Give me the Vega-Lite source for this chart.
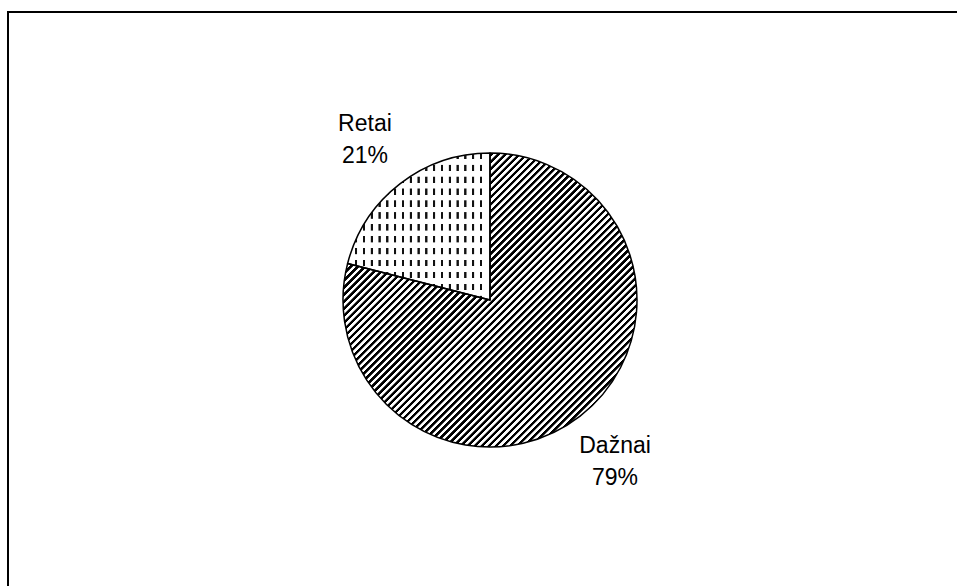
{
  "$schema": "https://vega.github.io/schema/vega-lite/v6.json",
  "width": 934,
  "height": 572,
  "autosize": {"type": "none"},
  "padding": {"left": 23, "top": 14, "right": 0, "bottom": 0},
  "background": "white",
  "config": {"view": {"stroke": null}},
  "datasets": {
    "slices": [
      {"cat": "Dažnai", "value": 79, "ord": 1, "label": ["Dažnai", "79%"]},
      {"cat": "Retai", "value": 21, "ord": 2, "label": ["Retai", "21%"]}
    ],
    "frame": [{"left": 0, "right": 1.1, "top": 1, "bottom": -0.1}]
  },
  "data": {"name": "slices"},
  "layer": [
    {
      "data": {"name": "frame"},
      "mark": {"type": "rect", "filled": false, "stroke": "black", "strokeWidth": 2, "xOffset": -15, "yOffset": -2},
      "encoding": {
        "x": {"field": "left", "type": "quantitative", "scale": {"domain": [0, 1], "nice": false, "zero": false, "clamp": false}, "axis": null},
        "x2": {"field": "right"},
        "y": {"field": "top", "type": "quantitative", "scale": {"domain": [0, 1], "nice": false, "zero": false, "clamp": false}, "axis": null},
        "y2": {"field": "bottom"}
      }
    },
    {
      "mark": {"type": "arc", "outerRadius": 147, "strokeWidth": 0},
      "encoding": {
        "theta": {"field": "value", "type": "quantitative", "stack": true},
        "order": {"field": "ord", "type": "quantitative"},
        "fill": {
          "condition": {"test": "datum.cat === 'Retai'", "value": {"gradient": "linear", "x1": 0, "y1": 0, "x2": 1, "y2": 0, "stops": [
            {"offset": 0, "color": "#fff"},
            {"offset": 0.0505, "color": "#fff"}, {"offset": 0.054, "color": "#111"}, {"offset": 0.066, "color": "#111"}, {"offset": 0.0695, "color": "#fff"},
            {"offset": 0.1053, "color": "#fff"}, {"offset": 0.1088, "color": "#111"}, {"offset": 0.1208, "color": "#111"}, {"offset": 0.1243, "color": "#fff"},
            {"offset": 0.1601, "color": "#fff"}, {"offset": 0.1636, "color": "#111"}, {"offset": 0.1756, "color": "#111"}, {"offset": 0.1791, "color": "#fff"},
            {"offset": 0.2149, "color": "#fff"}, {"offset": 0.2184, "color": "#111"}, {"offset": 0.2304, "color": "#111"}, {"offset": 0.2339, "color": "#fff"},
            {"offset": 0.2697, "color": "#fff"}, {"offset": 0.2732, "color": "#111"}, {"offset": 0.2852, "color": "#111"}, {"offset": 0.2887, "color": "#fff"},
            {"offset": 0.3245, "color": "#fff"}, {"offset": 0.328, "color": "#111"}, {"offset": 0.34, "color": "#111"}, {"offset": 0.3435, "color": "#fff"},
            {"offset": 0.3793, "color": "#fff"}, {"offset": 0.3828, "color": "#111"}, {"offset": 0.3948, "color": "#111"}, {"offset": 0.3983, "color": "#fff"},
            {"offset": 0.4341, "color": "#fff"}, {"offset": 0.4376, "color": "#111"}, {"offset": 0.4496, "color": "#111"}, {"offset": 0.4531, "color": "#fff"},
            {"offset": 0.4889, "color": "#fff"}, {"offset": 0.4924, "color": "#111"}, {"offset": 0.5044, "color": "#111"}, {"offset": 0.5079, "color": "#fff"},
            {"offset": 0.5437, "color": "#fff"}, {"offset": 0.5472, "color": "#111"}, {"offset": 0.5592, "color": "#111"}, {"offset": 0.5627, "color": "#fff"},
            {"offset": 0.5985, "color": "#fff"}, {"offset": 0.602, "color": "#111"}, {"offset": 0.614, "color": "#111"}, {"offset": 0.6175, "color": "#fff"},
            {"offset": 0.6533, "color": "#fff"}, {"offset": 0.6568, "color": "#111"}, {"offset": 0.6688, "color": "#111"}, {"offset": 0.6723, "color": "#fff"},
            {"offset": 0.7081, "color": "#fff"}, {"offset": 0.7116, "color": "#111"}, {"offset": 0.7236, "color": "#111"}, {"offset": 0.7271, "color": "#fff"},
            {"offset": 0.7629, "color": "#fff"}, {"offset": 0.7664, "color": "#111"}, {"offset": 0.7784, "color": "#111"}, {"offset": 0.7819, "color": "#fff"},
            {"offset": 0.8177, "color": "#fff"}, {"offset": 0.8212, "color": "#111"}, {"offset": 0.8332, "color": "#111"}, {"offset": 0.8367, "color": "#fff"},
            {"offset": 0.8725, "color": "#fff"}, {"offset": 0.876, "color": "#111"}, {"offset": 0.888, "color": "#111"}, {"offset": 0.8915, "color": "#fff"},
            {"offset": 0.9273, "color": "#fff"}, {"offset": 0.9308, "color": "#111"}, {"offset": 0.9428, "color": "#111"}, {"offset": 0.9463, "color": "#fff"},
            {"offset": 1, "color": "#fff"}
          ]}},
          "value": {"gradient": "linear", "x1": 0, "y1": 0, "x2": 1, "y2": 1, "stops": [
            {"offset": 0, "color": "#000"}, {"offset": 0.005, "color": "#000"}, {"offset": 0.006, "color": "#fff"}, {"offset": 0.011, "color": "#fff"},
            {"offset": 0.012, "color": "#000"}, {"offset": 0.017, "color": "#000"}, {"offset": 0.018, "color": "#fff"}, {"offset": 0.023, "color": "#fff"},
            {"offset": 0.024, "color": "#000"}, {"offset": 0.029, "color": "#000"}, {"offset": 0.030, "color": "#fff"}, {"offset": 0.035, "color": "#fff"},
            {"offset": 0.036, "color": "#000"}, {"offset": 0.041, "color": "#000"}, {"offset": 0.042, "color": "#fff"}, {"offset": 0.047, "color": "#fff"},
            {"offset": 0.048, "color": "#000"}, {"offset": 0.053, "color": "#000"}, {"offset": 0.054, "color": "#fff"}, {"offset": 0.059, "color": "#fff"},
            {"offset": 0.060, "color": "#000"}, {"offset": 0.065, "color": "#000"}, {"offset": 0.066, "color": "#fff"}, {"offset": 0.071, "color": "#fff"},
            {"offset": 0.072, "color": "#000"}, {"offset": 0.077, "color": "#000"}, {"offset": 0.078, "color": "#fff"}, {"offset": 0.083, "color": "#fff"},
            {"offset": 0.084, "color": "#000"}, {"offset": 0.089, "color": "#000"}, {"offset": 0.090, "color": "#fff"}, {"offset": 0.095, "color": "#fff"},
            {"offset": 0.096, "color": "#000"}, {"offset": 0.101, "color": "#000"}, {"offset": 0.102, "color": "#fff"}, {"offset": 0.107, "color": "#fff"},
            {"offset": 0.108, "color": "#000"}, {"offset": 0.113, "color": "#000"}, {"offset": 0.114, "color": "#fff"}, {"offset": 0.119, "color": "#fff"},
            {"offset": 0.120, "color": "#000"}, {"offset": 0.125, "color": "#000"}, {"offset": 0.126, "color": "#fff"}, {"offset": 0.131, "color": "#fff"},
            {"offset": 0.132, "color": "#000"}, {"offset": 0.137, "color": "#000"}, {"offset": 0.138, "color": "#fff"}, {"offset": 0.143, "color": "#fff"},
            {"offset": 0.144, "color": "#000"}, {"offset": 0.149, "color": "#000"}, {"offset": 0.150, "color": "#fff"}, {"offset": 0.155, "color": "#fff"},
            {"offset": 0.156, "color": "#000"}, {"offset": 0.161, "color": "#000"}, {"offset": 0.162, "color": "#fff"}, {"offset": 0.167, "color": "#fff"},
            {"offset": 0.168, "color": "#000"}, {"offset": 0.173, "color": "#000"}, {"offset": 0.174, "color": "#fff"}, {"offset": 0.179, "color": "#fff"},
            {"offset": 0.180, "color": "#000"}, {"offset": 0.185, "color": "#000"}, {"offset": 0.186, "color": "#fff"}, {"offset": 0.191, "color": "#fff"},
            {"offset": 0.192, "color": "#000"}, {"offset": 0.197, "color": "#000"}, {"offset": 0.198, "color": "#fff"}, {"offset": 0.203, "color": "#fff"},
            {"offset": 0.204, "color": "#000"}, {"offset": 0.209, "color": "#000"}, {"offset": 0.210, "color": "#fff"}, {"offset": 0.215, "color": "#fff"},
            {"offset": 0.216, "color": "#000"}, {"offset": 0.221, "color": "#000"}, {"offset": 0.222, "color": "#fff"}, {"offset": 0.227, "color": "#fff"},
            {"offset": 0.228, "color": "#000"}, {"offset": 0.233, "color": "#000"}, {"offset": 0.234, "color": "#fff"}, {"offset": 0.239, "color": "#fff"},
            {"offset": 0.240, "color": "#000"}, {"offset": 0.245, "color": "#000"}, {"offset": 0.246, "color": "#fff"}, {"offset": 0.251, "color": "#fff"},
            {"offset": 0.252, "color": "#000"}, {"offset": 0.257, "color": "#000"}, {"offset": 0.258, "color": "#fff"}, {"offset": 0.263, "color": "#fff"},
            {"offset": 0.264, "color": "#000"}, {"offset": 0.269, "color": "#000"}, {"offset": 0.270, "color": "#fff"}, {"offset": 0.275, "color": "#fff"},
            {"offset": 0.276, "color": "#000"}, {"offset": 0.281, "color": "#000"}, {"offset": 0.282, "color": "#fff"}, {"offset": 0.287, "color": "#fff"},
            {"offset": 0.288, "color": "#000"}, {"offset": 0.293, "color": "#000"}, {"offset": 0.294, "color": "#fff"}, {"offset": 0.299, "color": "#fff"},
            {"offset": 0.300, "color": "#000"}, {"offset": 0.305, "color": "#000"}, {"offset": 0.306, "color": "#fff"}, {"offset": 0.311, "color": "#fff"},
            {"offset": 0.312, "color": "#000"}, {"offset": 0.317, "color": "#000"}, {"offset": 0.318, "color": "#fff"}, {"offset": 0.323, "color": "#fff"},
            {"offset": 0.324, "color": "#000"}, {"offset": 0.329, "color": "#000"}, {"offset": 0.330, "color": "#fff"}, {"offset": 0.335, "color": "#fff"},
            {"offset": 0.336, "color": "#000"}, {"offset": 0.341, "color": "#000"}, {"offset": 0.342, "color": "#fff"}, {"offset": 0.347, "color": "#fff"},
            {"offset": 0.348, "color": "#000"}, {"offset": 0.353, "color": "#000"}, {"offset": 0.354, "color": "#fff"}, {"offset": 0.359, "color": "#fff"},
            {"offset": 0.360, "color": "#000"}, {"offset": 0.365, "color": "#000"}, {"offset": 0.366, "color": "#fff"}, {"offset": 0.371, "color": "#fff"},
            {"offset": 0.372, "color": "#000"}, {"offset": 0.377, "color": "#000"}, {"offset": 0.378, "color": "#fff"}, {"offset": 0.383, "color": "#fff"},
            {"offset": 0.384, "color": "#000"}, {"offset": 0.389, "color": "#000"}, {"offset": 0.390, "color": "#fff"}, {"offset": 0.395, "color": "#fff"},
            {"offset": 0.396, "color": "#000"}, {"offset": 0.401, "color": "#000"}, {"offset": 0.402, "color": "#fff"}, {"offset": 0.407, "color": "#fff"},
            {"offset": 0.408, "color": "#000"}, {"offset": 0.413, "color": "#000"}, {"offset": 0.414, "color": "#fff"}, {"offset": 0.419, "color": "#fff"},
            {"offset": 0.420, "color": "#000"}, {"offset": 0.425, "color": "#000"}, {"offset": 0.426, "color": "#fff"}, {"offset": 0.431, "color": "#fff"},
            {"offset": 0.432, "color": "#000"}, {"offset": 0.437, "color": "#000"}, {"offset": 0.438, "color": "#fff"}, {"offset": 0.443, "color": "#fff"},
            {"offset": 0.444, "color": "#000"}, {"offset": 0.449, "color": "#000"}, {"offset": 0.450, "color": "#fff"}, {"offset": 0.455, "color": "#fff"},
            {"offset": 0.456, "color": "#000"}, {"offset": 0.461, "color": "#000"}, {"offset": 0.462, "color": "#fff"}, {"offset": 0.467, "color": "#fff"},
            {"offset": 0.468, "color": "#000"}, {"offset": 0.473, "color": "#000"}, {"offset": 0.474, "color": "#fff"}, {"offset": 0.479, "color": "#fff"},
            {"offset": 0.480, "color": "#000"}, {"offset": 0.485, "color": "#000"}, {"offset": 0.486, "color": "#fff"}, {"offset": 0.491, "color": "#fff"},
            {"offset": 0.492, "color": "#000"}, {"offset": 0.497, "color": "#000"}, {"offset": 0.498, "color": "#fff"}, {"offset": 0.503, "color": "#fff"},
            {"offset": 0.504, "color": "#000"}, {"offset": 0.509, "color": "#000"}, {"offset": 0.510, "color": "#fff"}, {"offset": 0.515, "color": "#fff"},
            {"offset": 0.516, "color": "#000"}, {"offset": 0.521, "color": "#000"}, {"offset": 0.522, "color": "#fff"}, {"offset": 0.527, "color": "#fff"},
            {"offset": 0.528, "color": "#000"}, {"offset": 0.533, "color": "#000"}, {"offset": 0.534, "color": "#fff"}, {"offset": 0.539, "color": "#fff"},
            {"offset": 0.540, "color": "#000"}, {"offset": 0.545, "color": "#000"}, {"offset": 0.546, "color": "#fff"}, {"offset": 0.551, "color": "#fff"},
            {"offset": 0.552, "color": "#000"}, {"offset": 0.557, "color": "#000"}, {"offset": 0.558, "color": "#fff"}, {"offset": 0.563, "color": "#fff"},
            {"offset": 0.564, "color": "#000"}, {"offset": 0.569, "color": "#000"}, {"offset": 0.570, "color": "#fff"}, {"offset": 0.575, "color": "#fff"},
            {"offset": 0.576, "color": "#000"}, {"offset": 0.581, "color": "#000"}, {"offset": 0.582, "color": "#fff"}, {"offset": 0.587, "color": "#fff"},
            {"offset": 0.588, "color": "#000"}, {"offset": 0.593, "color": "#000"}, {"offset": 0.594, "color": "#fff"}, {"offset": 0.599, "color": "#fff"},
            {"offset": 0.600, "color": "#000"}, {"offset": 0.605, "color": "#000"}, {"offset": 0.606, "color": "#fff"}, {"offset": 0.611, "color": "#fff"},
            {"offset": 0.612, "color": "#000"}, {"offset": 0.617, "color": "#000"}, {"offset": 0.618, "color": "#fff"}, {"offset": 0.623, "color": "#fff"},
            {"offset": 0.624, "color": "#000"}, {"offset": 0.629, "color": "#000"}, {"offset": 0.630, "color": "#fff"}, {"offset": 0.635, "color": "#fff"},
            {"offset": 0.636, "color": "#000"}, {"offset": 0.641, "color": "#000"}, {"offset": 0.642, "color": "#fff"}, {"offset": 0.647, "color": "#fff"},
            {"offset": 0.648, "color": "#000"}, {"offset": 0.653, "color": "#000"}, {"offset": 0.654, "color": "#fff"}, {"offset": 0.659, "color": "#fff"},
            {"offset": 0.660, "color": "#000"}, {"offset": 0.665, "color": "#000"}, {"offset": 0.666, "color": "#fff"}, {"offset": 0.671, "color": "#fff"},
            {"offset": 0.672, "color": "#000"}, {"offset": 0.677, "color": "#000"}, {"offset": 0.678, "color": "#fff"}, {"offset": 0.683, "color": "#fff"},
            {"offset": 0.684, "color": "#000"}, {"offset": 0.689, "color": "#000"}, {"offset": 0.690, "color": "#fff"}, {"offset": 0.695, "color": "#fff"},
            {"offset": 0.696, "color": "#000"}, {"offset": 0.701, "color": "#000"}, {"offset": 0.702, "color": "#fff"}, {"offset": 0.707, "color": "#fff"},
            {"offset": 0.708, "color": "#000"}, {"offset": 0.713, "color": "#000"}, {"offset": 0.714, "color": "#fff"}, {"offset": 0.719, "color": "#fff"},
            {"offset": 0.720, "color": "#000"}, {"offset": 0.725, "color": "#000"}, {"offset": 0.726, "color": "#fff"}, {"offset": 0.731, "color": "#fff"},
            {"offset": 0.732, "color": "#000"}, {"offset": 0.737, "color": "#000"}, {"offset": 0.738, "color": "#fff"}, {"offset": 0.743, "color": "#fff"},
            {"offset": 0.744, "color": "#000"}, {"offset": 0.749, "color": "#000"}, {"offset": 0.750, "color": "#fff"}, {"offset": 0.755, "color": "#fff"},
            {"offset": 0.756, "color": "#000"}, {"offset": 0.761, "color": "#000"}, {"offset": 0.762, "color": "#fff"}, {"offset": 0.767, "color": "#fff"},
            {"offset": 0.768, "color": "#000"}, {"offset": 0.773, "color": "#000"}, {"offset": 0.774, "color": "#fff"}, {"offset": 0.779, "color": "#fff"},
            {"offset": 0.780, "color": "#000"}, {"offset": 0.785, "color": "#000"}, {"offset": 0.786, "color": "#fff"}, {"offset": 0.791, "color": "#fff"},
            {"offset": 0.792, "color": "#000"}, {"offset": 0.797, "color": "#000"}, {"offset": 0.798, "color": "#fff"}, {"offset": 0.803, "color": "#fff"},
            {"offset": 0.804, "color": "#000"}, {"offset": 0.809, "color": "#000"}, {"offset": 0.810, "color": "#fff"}, {"offset": 0.815, "color": "#fff"},
            {"offset": 0.816, "color": "#000"}, {"offset": 0.821, "color": "#000"}, {"offset": 0.822, "color": "#fff"}, {"offset": 0.827, "color": "#fff"},
            {"offset": 0.828, "color": "#000"}, {"offset": 0.833, "color": "#000"}, {"offset": 0.834, "color": "#fff"}, {"offset": 0.839, "color": "#fff"},
            {"offset": 0.840, "color": "#000"}, {"offset": 0.845, "color": "#000"}, {"offset": 0.846, "color": "#fff"}, {"offset": 0.851, "color": "#fff"},
            {"offset": 0.852, "color": "#000"}, {"offset": 0.857, "color": "#000"}, {"offset": 0.858, "color": "#fff"}, {"offset": 0.863, "color": "#fff"},
            {"offset": 0.864, "color": "#000"}, {"offset": 0.869, "color": "#000"}, {"offset": 0.870, "color": "#fff"}, {"offset": 0.875, "color": "#fff"},
            {"offset": 0.876, "color": "#000"}, {"offset": 0.881, "color": "#000"}, {"offset": 0.882, "color": "#fff"}, {"offset": 0.887, "color": "#fff"},
            {"offset": 0.888, "color": "#000"}, {"offset": 0.893, "color": "#000"}, {"offset": 0.894, "color": "#fff"}, {"offset": 0.899, "color": "#fff"},
            {"offset": 0.900, "color": "#000"}, {"offset": 0.905, "color": "#000"}, {"offset": 0.906, "color": "#fff"}, {"offset": 0.911, "color": "#fff"},
            {"offset": 0.912, "color": "#000"}, {"offset": 0.917, "color": "#000"}, {"offset": 0.918, "color": "#fff"}, {"offset": 0.923, "color": "#fff"},
            {"offset": 0.924, "color": "#000"}, {"offset": 0.929, "color": "#000"}, {"offset": 0.930, "color": "#fff"}, {"offset": 0.935, "color": "#fff"},
            {"offset": 0.936, "color": "#000"}, {"offset": 0.941, "color": "#000"}, {"offset": 0.942, "color": "#fff"}, {"offset": 0.947, "color": "#fff"},
            {"offset": 0.948, "color": "#000"}, {"offset": 0.953, "color": "#000"}, {"offset": 0.954, "color": "#fff"}, {"offset": 0.959, "color": "#fff"},
            {"offset": 0.960, "color": "#000"}, {"offset": 0.965, "color": "#000"}, {"offset": 0.966, "color": "#fff"}, {"offset": 0.971, "color": "#fff"},
            {"offset": 0.972, "color": "#000"}, {"offset": 0.977, "color": "#000"}, {"offset": 0.978, "color": "#fff"}, {"offset": 0.983, "color": "#fff"},
            {"offset": 0.984, "color": "#000"}, {"offset": 0.989, "color": "#000"}, {"offset": 0.990, "color": "#fff"}, {"offset": 0.995, "color": "#fff"},
            {"offset": 0.996, "color": "#000"}, {"offset": 1, "color": "#000"}
          ]}
        }
      }
    },
    {
      "mark": {"type": "arc", "outerRadius": 147, "strokeWidth": 0},
      "encoding": {
        "theta": {"field": "value", "type": "quantitative", "stack": true},
        "order": {"field": "ord", "type": "quantitative"},
        "fill": {
          "condition": {"test": "datum.cat === 'Retai'", "value": {"gradient": "linear", "x1": 0, "y1": 0, "x2": 0, "y2": 1, "stops": [
            {"offset": 0, "color": "rgba(255,255,255,0)"}, {"offset": 0.04, "color": "rgba(255,255,255,0)"}, {"offset": 0.043, "color": "#fff"}, {"offset": 0.078, "color": "#fff"},
            {"offset": 0.081, "color": "rgba(255,255,255,0)"}, {"offset": 0.121, "color": "rgba(255,255,255,0)"}, {"offset": 0.124, "color": "#fff"}, {"offset": 0.159, "color": "#fff"},
            {"offset": 0.162, "color": "rgba(255,255,255,0)"}, {"offset": 0.202, "color": "rgba(255,255,255,0)"}, {"offset": 0.205, "color": "#fff"}, {"offset": 0.24, "color": "#fff"},
            {"offset": 0.243, "color": "rgba(255,255,255,0)"}, {"offset": 0.283, "color": "rgba(255,255,255,0)"}, {"offset": 0.286, "color": "#fff"}, {"offset": 0.321, "color": "#fff"},
            {"offset": 0.324, "color": "rgba(255,255,255,0)"}, {"offset": 0.364, "color": "rgba(255,255,255,0)"}, {"offset": 0.367, "color": "#fff"}, {"offset": 0.402, "color": "#fff"},
            {"offset": 0.405, "color": "rgba(255,255,255,0)"}, {"offset": 0.445, "color": "rgba(255,255,255,0)"}, {"offset": 0.448, "color": "#fff"}, {"offset": 0.483, "color": "#fff"},
            {"offset": 0.486, "color": "rgba(255,255,255,0)"}, {"offset": 0.526, "color": "rgba(255,255,255,0)"}, {"offset": 0.529, "color": "#fff"}, {"offset": 0.564, "color": "#fff"},
            {"offset": 0.567, "color": "rgba(255,255,255,0)"}, {"offset": 0.607, "color": "rgba(255,255,255,0)"}, {"offset": 0.61, "color": "#fff"}, {"offset": 0.645, "color": "#fff"},
            {"offset": 0.648, "color": "rgba(255,255,255,0)"}, {"offset": 0.688, "color": "rgba(255,255,255,0)"}, {"offset": 0.691, "color": "#fff"}, {"offset": 0.726, "color": "#fff"},
            {"offset": 0.729, "color": "rgba(255,255,255,0)"}, {"offset": 0.769, "color": "rgba(255,255,255,0)"}, {"offset": 0.772, "color": "#fff"}, {"offset": 0.807, "color": "#fff"},
            {"offset": 0.81, "color": "rgba(255,255,255,0)"}, {"offset": 0.85, "color": "rgba(255,255,255,0)"}, {"offset": 0.853, "color": "#fff"}, {"offset": 0.888, "color": "#fff"},
            {"offset": 0.891, "color": "rgba(255,255,255,0)"}, {"offset": 0.931, "color": "rgba(255,255,255,0)"}, {"offset": 0.934, "color": "#fff"}, {"offset": 0.969, "color": "#fff"},
            {"offset": 0.972, "color": "rgba(255,255,255,0)"}, {"offset": 1, "color": "rgba(255,255,255,0)"}
          ]}},
          "value": "transparent"
        }
      }
    },
    {
      "mark": {"type": "arc", "outerRadius": 147, "filled": false, "stroke": "black", "strokeWidth": 1.5, "strokeJoin": "round"},
      "encoding": {
        "theta": {"field": "value", "type": "quantitative", "stack": true},
        "order": {"field": "ord", "type": "quantitative"}
      }
    },
    {
      "mark": {"type": "text", "radius": 204, "dy": -15, "font": "Liberation Sans", "fontSize": 23, "lineHeight": 32, "color": "black", "align": "center", "baseline": "middle"},
      "encoding": {
        "theta": {"field": "value", "type": "quantitative", "stack": true},
        "order": {"field": "ord", "type": "quantitative"},
        "text": {"field": "label"}
      }
    }
  ]
}
